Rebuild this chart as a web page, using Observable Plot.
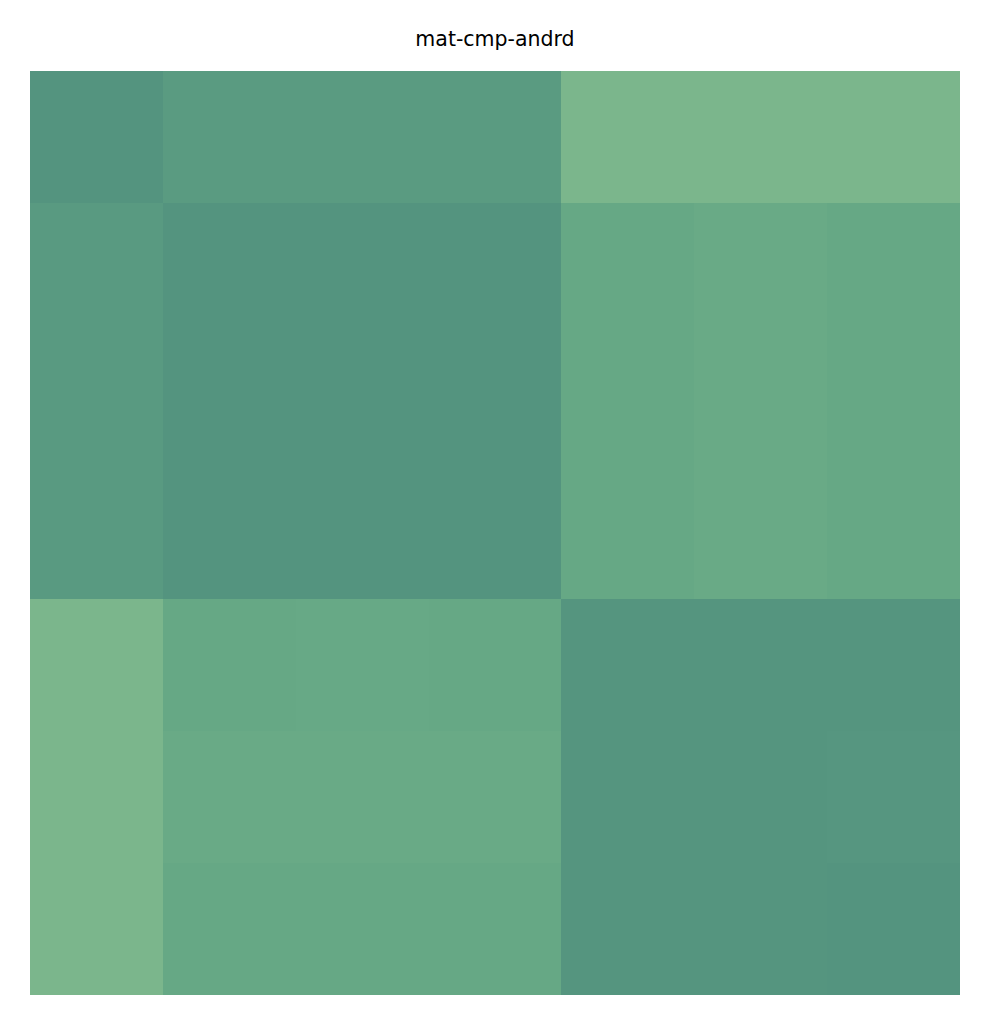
<!DOCTYPE html>
<html>
<head>
<meta charset="utf-8">
<script src="https://cdn.jsdelivr.net/npm/d3@7"></script>
<script src="https://cdn.jsdelivr.net/npm/@observablehq/plot@0.6"></script>
<style>
  body { margin: 0; background: #fff; }
  #wrap { position: relative; width: 990px; }
  #title { height: 71px; box-sizing: border-box; padding-top: 29px; text-align: center;
           font-family: "DejaVu Sans", sans-serif; font-size: 20.5px; line-height: 20px; color: #000; }
</style>
</head>
<body>
<div id="wrap">
  <div id="title">mat-cmp-andrd</div>
  <div id="chart"></div>
</div>
<script>
const rowLabels = ["r0", "r1", "r2", "r3", "r4", "r5", "r6"];
const colLabels = ["c0", "c1", "c2", "c3", "c4", "c5", "c6"];
const values = [
  [1.00, 0.86, 0.86, 0.86, 0.00, 0.00, 0.00],
  [0.88, 1.00, 1.00, 1.00, 0.60, 0.53, 0.60],
  [0.88, 1.00, 1.00, 1.00, 0.60, 0.53, 0.60],
  [0.88, 1.00, 1.00, 1.00, 0.59, 0.53, 0.60],
  [0.00, 0.60, 0.57, 0.60, 0.97, 0.97, 0.97],
  [0.00, 0.53, 0.53, 0.53, 0.97, 0.97, 0.95],
  [0.00, 0.60, 0.60, 0.60, 0.97, 0.97, 1.00]
];

const cells = [];
rowLabels.forEach((r, i) => colLabels.forEach((c, j) => cells.push({row: r, col: c, value: values[i][j]})));

const chart = Plot.plot({
  width: 990,
  height: 954,
  marginLeft: 30,
  marginRight: 30,
  marginTop: 0,
  marginBottom: 30,
  x: {domain: colLabels, padding: 0, round: false, axis: null},
  y: {domain: rowLabels, padding: 0, round: false, axis: null},
  color: {type: "linear", domain: [0, 0.55, 1], range: ["#7bb68c", "#68aa86", "#54947f"], interpolate: "rgb"},
  marks: [
    Plot.cell(cells, {x: "col", y: "row", fill: "value", inset: 0, shapeRendering: "crispEdges"})
  ]
});
document.getElementById("chart").appendChild(chart);
</script>
</body>
</html>
